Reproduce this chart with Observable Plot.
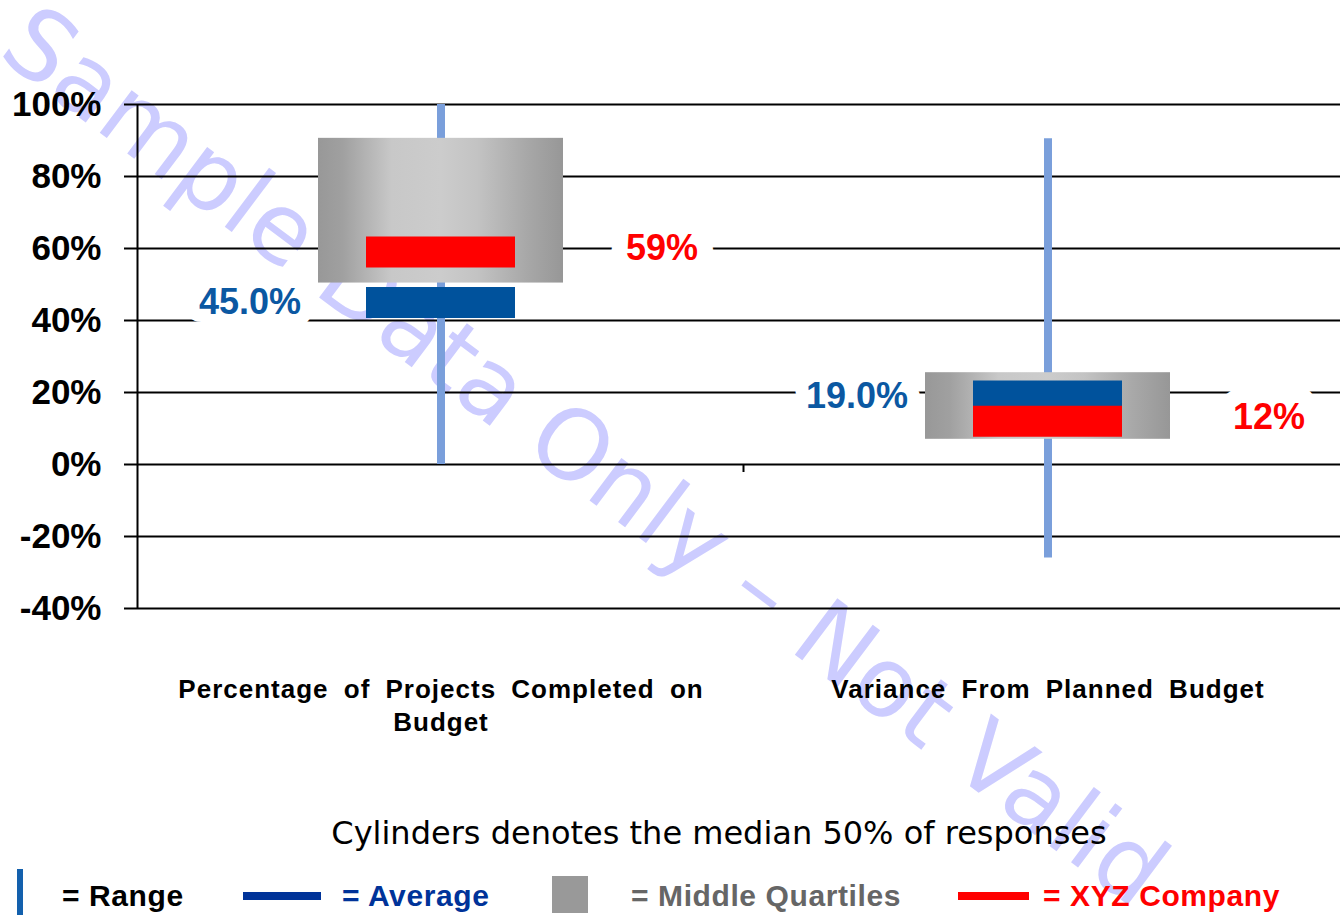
<!DOCTYPE html>
<html>
<head>
<meta charset="utf-8">
<script src="https://cdn.jsdelivr.net/npm/d3@7"></script>
<script src="https://cdn.jsdelivr.net/npm/@observablehq/plot@0.6"></script>
<style>
  html, body { margin: 0; padding: 0; background: #fff; }
  #wrap { position: relative; width: 1340px; height: 915px; overflow: hidden; }
  #watermark { position: absolute; left: -4px; top: 55px; font-family: "DejaVu Sans", sans-serif; font-size: 97px; line-height: 97px; color: #ccccff; white-space: nowrap; transform-origin: 0 0; transform: rotate(36.9deg) translateY(-0.846em); z-index: 0; }
  #chart { position: absolute; left: 0; top: 0; z-index: 1; }
  #caption { position: absolute; top: 817px; left: 719px; transform: translateX(-50%); font-family: "DejaVu Sans", sans-serif; font-size: 32px; line-height: 32px; white-space: nowrap; color: #000; z-index: 2; }
  .sw { position: absolute; z-index: 2; }
  .lt { position: absolute; z-index: 2; top: 881px; font-family: "Liberation Sans", Arial, sans-serif; font-weight: bold; font-size: 30px; line-height: 30px; letter-spacing: 0.6px; white-space: nowrap; }
</style>
</head>
<body>
<div id="wrap">
  <div id="watermark"></div>
  <div id="chart"></div>
  <div id="caption"></div>
</div>
<script>
// ---- data ----
const categories = ["Percentage of Projects Completed on Budget", "Variance From Planned Budget"];
const categoryLines = [["Percentage of Projects Completed on", "Budget"], ["Variance From Planned Budget"]];
const rangeLow = [0, -26];
const rangeHigh = [100, 90.5];
const quartileLow = [50.4, 7];
const quartileHigh = [90.6, 25.5];
const averageValues = [45.0, 19.0];
const companyValues = [59, 12];
const averageLabels = ["45.0%", "19.0%"];
const companyLabels = ["59%", "12%"];
const yTicks = [-40, -20, 0, 20, 40, 60, 80, 100];
const captionText = "Cylinders denotes the median 50% of responses";
const legendLabels = ["= Range", "= Average", "= Middle Quartiles", "= XYZ Company"];
const watermarkText = "Sample Data Only – Not Valid";

const rows = categories.map((c, i) => ({
  category: c,
  lines: categoryLines[i].join("\n"),
  lo: rangeLow[i], hi: rangeHigh[i],
  q1: quartileLow[i], q3: quartileHigh[i],
  avg: averageValues[i], co: companyValues[i],
  avgLabel: averageLabels[i], coLabel: companyLabels[i]
}));

const BAND = 607;
const plot = Plot.plot({
  width: 1340,
  height: 760,
  marginLeft: 137,
  marginRight: 0,
  marginTop: 104,
  marginBottom: 152,
  style: {background: "transparent", fontFamily: "'Liberation Sans', Arial, sans-serif", fontSize: "35px", fontWeight: "bold", color: "#000", overflow: "visible"},
  x: {domain: categories, range: [136.5, 136.5 + 2 * BAND], padding: 0, axis: null},
  y: {domain: [-40, 100], axis: null},
  marks: [
    Plot.ruleY(yTicks, {stroke: "#000", strokeWidth: 2}),
    Plot.axisY(yTicks, {tickSize: 13, tickPadding: 23, tickFormat: d => d + "%", strokeWidth: 2, label: null}),
    Plot.ruleX(rows.slice(0, 1), {x: "category", dx: -BAND / 2, y1: yTicks[0], y2: yTicks[yTicks.length - 1], stroke: "#000", strokeWidth: 2}),
    Plot.ruleX(rows, {x: "category", y1: "lo", y2: "hi", stroke: "#7a9fdb", strokeWidth: 8}),
    Plot.barY(rows, {x: "category", y1: "q1", y2: "q3", insetLeft: 181, insetRight: 181, fill: "url(#cyl)"}),
    Plot.tickY(rows, {x: "category", y: "avg", stroke: "#00529c", strokeWidth: 31, insetLeft: 229, insetRight: 229}),
    Plot.tickY(rows, {x: "category", y: "co", stroke: "#ff0000", strokeWidth: 31, insetLeft: 229, insetRight: 229}),
    Plot.text(rows, {x: "category", y: "avg", text: "avgLabel", dx: -191, fill: "#0b58a2", stroke: "white", strokeWidth: 26, strokeLinejoin: "round", fontSize: 36}),
    Plot.text(rows, {x: "category", y: "co", text: "coLabel", dx: 221, dy: -4, fill: "#ff0000", stroke: "white", strokeWidth: 32, strokeLinejoin: "round", fontSize: 36}),
    Plot.text(rows, {x: "category", text: "lines", frameAnchor: "bottom", lineAnchor: "top", dy: 66, lineHeight: 1.27, fontSize: 26, fill: "#000"})
  ]
});

// gradient for the "cylinders"
const svg = d3.select(plot);
const defs = svg.insert("defs", ":first-child");
const grad = defs.append("linearGradient").attr("id", "cyl").attr("x1", 0).attr("x2", 1).attr("y1", 0).attr("y2", 0);
[[0, "#989898"], [0.1, "#a0a0a0"], [0.3, "#c8c8c8"], [0.5, "#cccccc"], [0.65, "#c3c3c3"], [0.85, "#a8a8a8"], [1, "#979797"]]
  .forEach(([o, c]) => grad.append("stop").attr("offset", o).attr("stop-color", c));

// divider tick between the two categories on the 0% line
const xs = plot.scale("x"), ys = plot.scale("y");
const xDiv = xs.range[0] + xs.bandwidth;
const y0 = ys.apply ? ys.apply(0) : 464;
svg.append("line").attr("x1", xDiv).attr("x2", xDiv).attr("y1", y0).attr("y2", y0 + 8).attr("stroke", "#000").attr("stroke-width", 2);

// letter / word spacing on the category labels
const allLines = categoryLines.flat();
svg.selectAll("text").each(function () {
  const t = this.textContent;
  if (allLines.some(l => t.includes(l))) {
    this.setAttribute("letter-spacing", "1");
    this.setAttribute("word-spacing", "7");
    this.style.letterSpacing = "1px";
    this.style.wordSpacing = "7px";
  }
});

document.getElementById("chart").appendChild(plot);
document.getElementById("watermark").textContent = watermarkText;
document.getElementById("caption").textContent = captionText;

// legend
const wrap = document.getElementById("wrap");
function box(left, top, w, h, color) {
  const d = document.createElement("div");
  d.className = "sw";
  Object.assign(d.style, {left: left + "px", top: top + "px", width: w + "px", height: h + "px", background: color});
  wrap.appendChild(d);
}
function label(left, text, color) {
  const s = document.createElement("div");
  s.className = "lt";
  s.style.left = left + "px";
  s.style.color = color;
  s.textContent = text;
  wrap.appendChild(s);
}
box(17, 869, 6, 46, "#1360ad");
label(62, legendLabels[0], "#000");
box(243, 892, 78, 8, "#003399");
label(342, legendLabels[1], "#003399");
box(552, 876, 36, 37, "#999999");
label(631, legendLabels[2], "#666666");
box(958, 892, 71, 8, "#ff0000");
label(1043, legendLabels[3], "#ff0000");
</script>
</body>
</html>
